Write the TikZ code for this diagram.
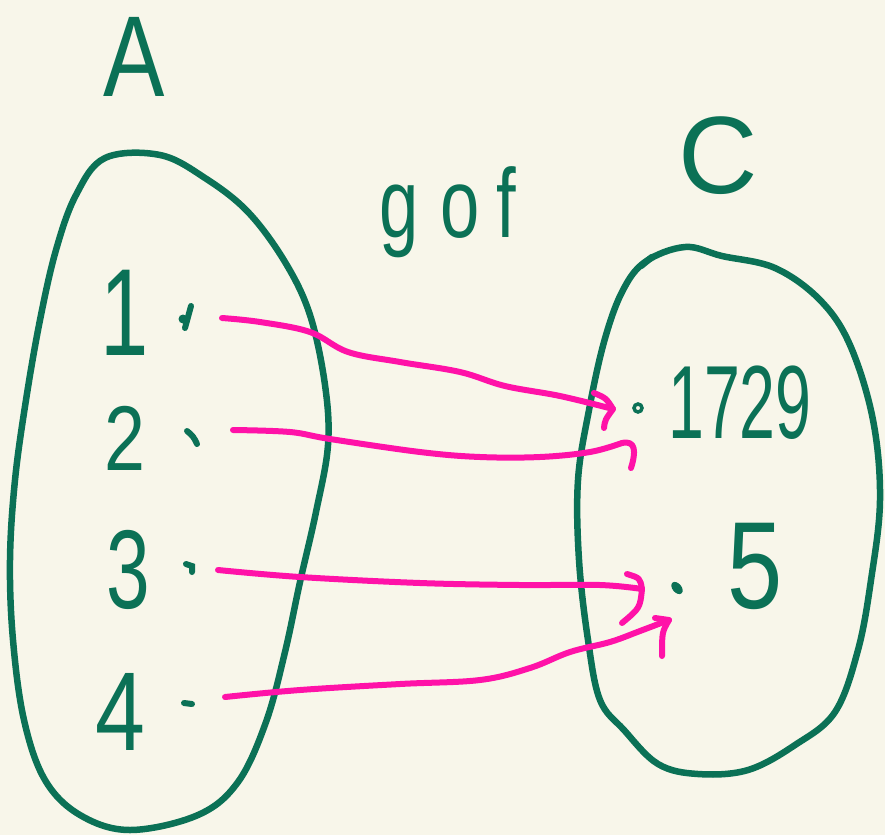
\documentclass[tikz,border=0pt]{standalone}
\usepackage{fontspec}
\usepackage{graphicx}
\setmainfont{Liberation Sans}
\usetikzlibrary{calc}
\definecolor{bgcream}{HTML}{F8F6EA}
\definecolor{inkgreen}{HTML}{0B7156}
\definecolor{inkpink}{HTML}{FF12A8}
\tikzset{
  blob/.style={draw=inkgreen, line width=6.5pt, line cap=round, line join=round},
  eltmark/.style={draw=inkgreen, line width=6pt, line cap=round},
  conn/.style={draw=inkpink, line width=6pt, line cap=round, line join=round},
  lbl/.style={text=inkgreen, inner sep=0pt},
}
\begin{document}
\begin{tikzpicture}[x=1pt,y=1pt]
\fill[bgcream] (0,0) rectangle (885,-835);
\useasboundingbox (0,0) rectangle (885,-835);

% sets
\draw[blob] plot[smooth cycle, tension=0.6] coordinates {
 (105,-158) (160,-155) (205,-178) (248,-212) (285,-262) (310,-315) (325,-385)
 (328,-445) (316,-512) (300,-582) (285,-652) (266,-722) (238,-782) (198,-815)
 (130,-830) (80,-815) (45,-780) (24,-720) (13,-640) (10,-560) (15,-480)
 (26,-400) (40,-320) (56,-250) (76,-195)};
\draw[blob] plot[smooth cycle, tension=0.6] coordinates {
 (645,-262) (685,-247) (722,-256) (775,-268) (820,-300) (850,-345) (873,-420)
 (880,-500) (871,-580) (858,-650) (835,-712) (795,-745) (748,-770) (698,-774)
 (658,-764) (624,-730) (600,-700) (588,-640) (579,-560) (578,-480) (589,-410)
 (604,-342) (622,-292)};
\draw[blob] (641,-266) -- (652,-257);

% labels
\node[lbl, font=\fontsize{115}{115}\selectfont] (A) at (134,-57) {\scalebox{0.8}[1]{A}};
\node[lbl, font=\fontsize{110}{110}\selectfont] (C) at (718,-156) {C};
\node[lbl, font=\fontsize{98}{98}\selectfont] (gof) at (448,-212) {\scalebox{0.72}[1]{g\hspace{30pt}o\hspace{24pt}f}};
\node[lbl, font=\fontsize{124}{124}\selectfont] (n1) at (125,-313) {\scalebox{0.7}[1]{1}};
\node[lbl, font=\fontsize{92}{92}\selectfont] (n2) at (125,-438) {\scalebox{0.8}[1]{2}};
\node[lbl, font=\fontsize{112}{112}\selectfont] (n3) at (128,-570) {\scalebox{0.7}[1]{3}};
\node[lbl, font=\fontsize{112}{112}\selectfont] (n4) at (120,-712) {\scalebox{0.8}[1]{4}};
\node[lbl, font=\fontsize{104}{104}\selectfont] (n1729) at (740,-403) {\scalebox{0.62}[1]{1729}};
\node[lbl, font=\fontsize{124}{124}\selectfont] (n5) at (755,-566) {\scalebox{0.8}[1]{5}};

% element marks
\draw[eltmark] (191,-306) -- (185,-328);
\fill[inkgreen] (183,-319) circle (4.5);
\draw[eltmark] (187,-431) to[bend left=15] (197,-444);
\draw[eltmark] (186,-564) -- (192,-566) -- (192,-572);
\draw[eltmark] (184,-703) -- (192,-704);
\draw[inkgreen, line width=3.5pt] (638,-408) circle (4);
\fill[inkgreen, rotate around={40:(677,-588)}] (677,-588) ellipse (4.5 and 7);

% connector end points
\coordinate (s1) at (222,-318);
\coordinate (t1) at (613,-409);
\coordinate (s2) at (233,-430);
\coordinate (t2) at (622,-443);
\coordinate (s3) at (218,-570);
\coordinate (t3) at (642,-589);
\coordinate (s4) at (225,-697);
\coordinate (t4) at (669,-620);

% connectors
\draw[conn] plot[smooth, tension=0.6] coordinates {(s1) (260,-322) (310,-332) (348,-352) (400,-362) (460,-372) (505,-386) (560,-396) (t1)};
\draw[conn] (594,-393) .. controls (606,-398) .. (t1) .. controls (605,-420) .. (604,-428);

\draw[conn] plot[smooth, tension=0.6] coordinates {(s2) (290,-432) (330,-439) (420,-452) (480,-457) (540,-457) (590,-452) (t2)};
\draw[conn] (t2) .. controls (636,-440) and (636,-452) .. (631,-468);

\draw[conn] plot[smooth, tension=0.6] coordinates {(s3) (300,-577) (420,-583) (520,-585) (600,-585) (t3)};
\draw[conn] (627,-574) .. controls (640,-578) .. (t3) .. controls (640,-608) .. (622,-623);

\draw[conn] plot[smooth, tension=0.6] coordinates {(s4) (300,-690) (400,-684) (480,-680) (530,-668) (570,-652) (610,-642) (640,-631) (t4)};
\draw[conn] (655,-618) -- (t4) .. controls (662,-632) .. (662,-656);
\end{tikzpicture}
\end{document}
